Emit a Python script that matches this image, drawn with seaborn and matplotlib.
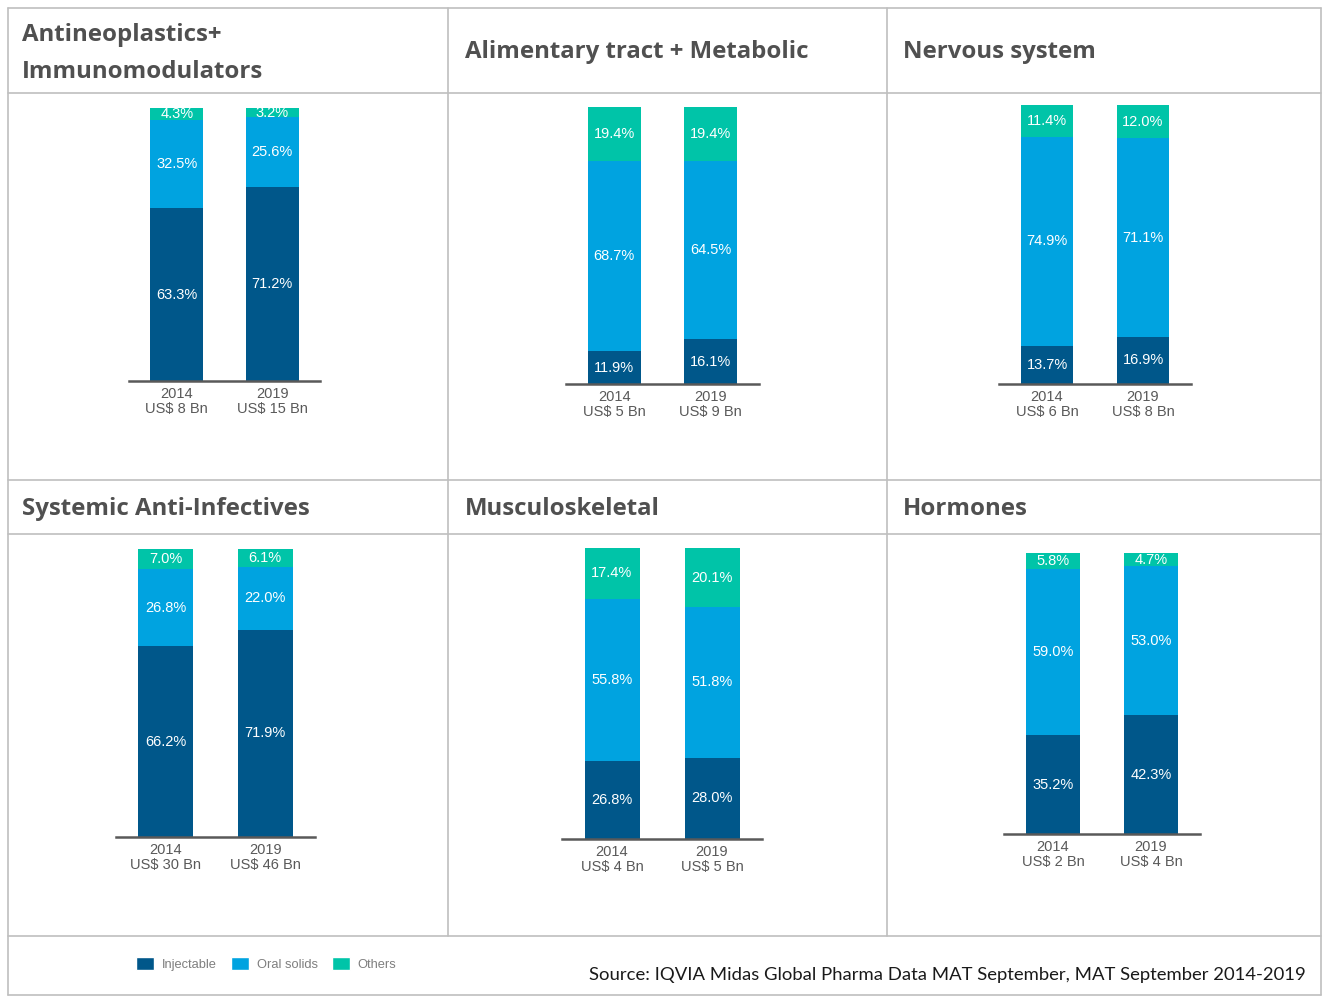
import matplotlib
matplotlib.use("Agg")
import matplotlib.pyplot as plt
import seaborn as sns
import numpy as np
from matplotlib.lines import Line2D
from matplotlib.patches import Patch

sns.set_theme(style="white")
plt.rcParams['font.family'] = ['Liberation Sans', 'DejaVu Sans']

titles = ["Antineoplastics+\nImmunomodulators", "Alimentary tract + Metabolic", "Nervous system",
          "Systemic Anti-Infectives", "Musculoskeletal", "Hormones"]
years = ["2014", "2019"]
sizes = [["US$ 8 Bn", "US$ 15 Bn"], ["US$ 5 Bn", "US$ 9 Bn"], ["US$ 6 Bn", "US$ 8 Bn"],
         ["US$ 30 Bn", "US$ 46 Bn"], ["US$ 4 Bn", "US$ 5 Bn"], ["US$ 2 Bn", "US$ 4 Bn"]]
injectable = [[63.3, 71.2], [11.9, 16.1], [13.7, 16.9], [66.2, 71.9], [26.8, 28.0], [35.2, 42.3]]
oral_solids = [[32.5, 25.6], [68.7, 64.5], [74.9, 71.1], [26.8, 22.0], [55.8, 51.8], [59.0, 53.0]]
others = [[4.3, 3.2], [19.4, 19.4], [11.4, 12.0], [7.0, 6.1], [17.4, 20.1], [5.8, 4.7]]

C_INJ = "#00578A"
C_ORAL = "#00A3E0"
C_OTH = "#00C4A8"

W, H = 1323, 997
fig = plt.figure(figsize=(W / 100, H / 100), dpi=100)

# axes pixel boxes: (left, right, baseline_y, top_y)
boxes = [(129, 320, 381, 108), (566, 759, 384, 107), (999, 1191, 384, 105),
         (116, 315, 837, 549), (562, 762, 839, 548), (1004, 1200, 834, 553)]

for i, (l, r, base, top) in enumerate(boxes):
    ax = fig.add_axes([l / W, 1 - base / H, (r - l) / W, (base - top) / H])
    inj = np.array(injectable[i])
    orl = np.array(oral_solids[i])
    oth = np.array(others[i])
    total = inj + orl + oth
    kw = dict(width=0.55, saturation=1, ax=ax, edgecolor="none", linewidth=0)
    sns.barplot(x=years, y=total, color=C_OTH, **kw)
    sns.barplot(x=years, y=inj + orl, color=C_ORAL, **kw)
    sns.barplot(x=years, y=inj, color=C_INJ, **kw)
    ax.set_xlim(-0.5, 1.5)
    ax.set_ylim(0, total.max())
    for j in range(2):
        for lo, v in ((0, inj[j]), (inj[j], orl[j]), (inj[j] + orl[j], oth[j])):
            ax.text(j, lo + v / 2, f"{v:.1f}%", ha="center", va="center",
                    color="white", fontsize=10.5)
    ax.set_xticks([0, 1])
    ax.set_xticklabels([f"{years[j]}\n{sizes[i][j]}" for j in range(2)],
                       color="#595959", fontsize=10.5, linespacing=1.12)
    ax.tick_params(axis="x", length=0, pad=4)
    ax.set_yticks([])
    ax.set_xlabel("")
    ax.set_ylabel("")
    for s in ("left", "right", "top"):
        ax.spines[s].set_visible(False)
    ax.spines["bottom"].set_color("#595959")
    ax.spines["bottom"].set_linewidth(1.8)
    ax.patch.set_alpha(0)

# grid lines of the table
gc = "#BFBFBF"
def hline(y, x0=8, x1=1321):
    fig.add_artist(Line2D([x0 / W, x1 / W], [1 - y / H, 1 - y / H], color=gc, lw=1.2))
def vline(x, y0, y1):
    fig.add_artist(Line2D([x / W, x / W], [1 - y0 / H, 1 - y1 / H], color=gc, lw=1.2))
for y in (8, 93, 480, 534, 936, 995):
    hline(y)
vline(8, 8, 995)
vline(1321, 8, 995)
vline(448, 8, 936)
vline(887, 8, 936)

# titles
tpos = [(22, 53.5), (465, 52), (903, 52), (22, 509), (465, 509), (903, 509)]
for t, (x, y) in zip(titles, tpos):
    fig.text(x / W, 1 - y / H, t, ha="left", va="center", fontsize=17.3, fontweight="bold",
             color="#505050", family=["Open Sans", "DejaVu Sans"], linespacing=1.68)

# legend
handles = [Patch(facecolor=C_INJ, label="Injectable"), Patch(facecolor=C_ORAL, label="Oral solids"),
           Patch(facecolor=C_OTH, label="Others")]
fig.legend(handles=handles, loc="center left", bbox_to_anchor=(127 / W, 1 - 964 / H), ncol=3,
           frameon=False, fontsize=9.3, labelcolor="#7F7F7F", handlelength=1.4, handleheight=1.1,
           handletextpad=0.6, columnspacing=1.1, borderpad=0.2)

fig.text(1306 / W, 1 - 975 / H, "Source: IQVIA Midas Global Pharma Data MAT September, MAT September 2014-2019",
         ha="right", va="center", fontsize=13.3, color="#1a1a1a", family=["Lato", "DejaVu Sans"])

fig.savefig("out.png", dpi=100)
